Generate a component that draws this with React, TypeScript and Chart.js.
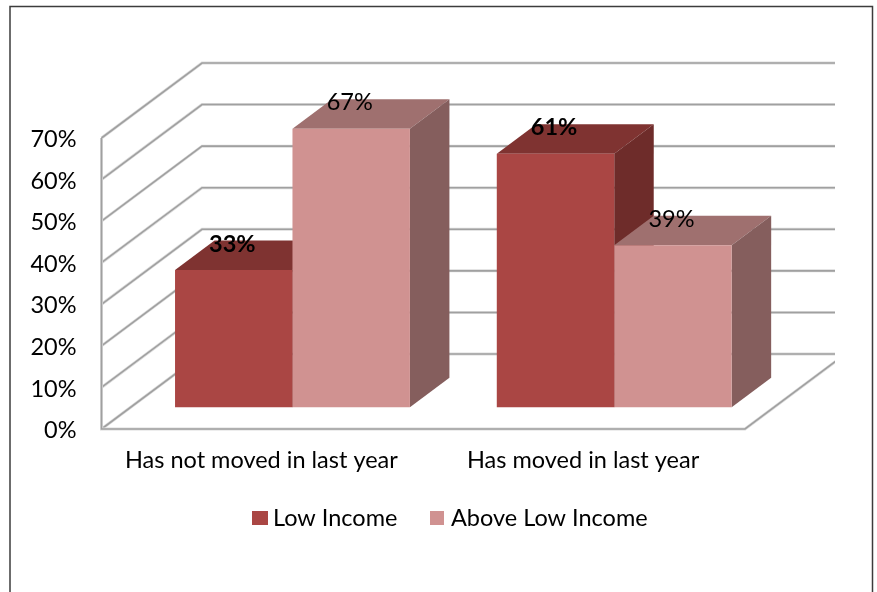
import React, { useEffect, useRef } from "react";
import { Chart, registerables } from "chart.js";

Chart.register(...registerables);

const categories = ["Has not moved in last year", "Has moved in last year"];
const lowIncome = [33, 61];
const aboveLowIncome = [67, 39];
const tickStep = 10;
const axisMax = 70;

const FONT = "Lato, Carlito, sans-serif";
const FONT_SIZE = 23.5;

const LOW_FACE = "#AA4644";
const LOW_TOP = "#7F3331";
const LOW_SIDE = "#6E2C2A";
const ABOVE_FACE = "#D09291";
const ABOVE_TOP = "#9F706F";
const ABOVE_SIDE = "#855E5D";

// Projection of the 3D box: wall depth, bar depth and where the bars stand on the floor.
const WALL_DX = 100.5;
const WALL_DY = 75;
const WALL_RIGHT = 835;
const BAR_DX = 39.5;
const BAR_DY = 29.5;
const FLOOR_DX = 30.1;
const FLOOR_DY = -21.7;

function poly(ctx: CanvasRenderingContext2D, pts: number[][], fill: string) {
  ctx.beginPath();
  pts.forEach(([x, y], i) => (i ? ctx.lineTo(x, y) : ctx.moveTo(x, y)));
  ctx.closePath();
  ctx.fillStyle = fill;
  ctx.fill();
}

function gridStroke(ctx: CanvasRenderingContext2D, pts: number[][]) {
  const trace = () => {
    ctx.beginPath();
    pts.forEach(([x, y], i) => (i ? ctx.lineTo(x, y) : ctx.moveTo(x, y)));
    ctx.stroke();
  };
  ctx.lineCap = "butt";
  ctx.lineJoin = "miter";
  ctx.strokeStyle = "#dcdcdc";
  ctx.lineWidth = 3;
  trace();
  ctx.strokeStyle = "#a0a0a0";
  ctx.lineWidth = 1.6;
  trace();
}

const box3d = {
  id: "box3d",
  beforeDraw(chart: any) {
    const { ctx } = chart;
    ctx.save();
    ctx.fillStyle = "#ffffff";
    ctx.fillRect(0, 0, chart.width, chart.height);

    // Frame round the chart, open at the bottom edge of the page.
    ctx.strokeStyle = "#3c3c3c";
    ctx.lineWidth = 1.5;
    ctx.beginPath();
    ctx.moveTo(10, chart.height + 2);
    ctx.lineTo(10, 6.5);
    ctx.lineTo(872.5, 6.5);
    ctx.lineTo(872.5, chart.height + 2);
    ctx.stroke();

    // Legend row.
    ctx.font = `${FONT_SIZE}px ${FONT}`;
    ctx.textBaseline = "middle";
    ctx.textAlign = "left";
    const swatches = [
      { x: 252, w: 16, tx: 273 },
      { x: 430, w: 14, tx: 451 },
    ];
    chart.data.datasets.forEach((ds: any, i: number) => {
      ctx.fillStyle = ds.backgroundColor;
      ctx.fillRect(swatches[i].x, 511, swatches[i].w, 14);
      ctx.fillStyle = "#000000";
      ctx.fillText(ds.label, swatches[i].tx, 518);
    });
    ctx.restore();
  },
  beforeDatasetsDraw(chart: any) {
    const { ctx, chartArea } = chart;
    const y = chart.scales.y;
    const { left, right, bottom } = chartArea;

    ctx.save();
    ctx.beginPath();
    ctx.rect(0, 0, WALL_RIGHT, chart.height);
    ctx.clip();
    // Side wall and back wall lines, one for every axis tick.
    y.ticks.forEach((t: any) => {
      const py = y.getPixelForValue(t.value);
      gridStroke(ctx, [
        [left, py],
        [left + WALL_DX, py - WALL_DY],
        [WALL_RIGHT + 2, py - WALL_DY],
      ]);
    });
    // Left edge of the side wall, then the floor's front and right edges.
    gridStroke(ctx, [
      [left, y.getPixelForValue(axisMax)],
      [left, bottom],
      [right, bottom],
      [right + WALL_DX, bottom - WALL_DY],
    ]);
    ctx.restore();

    // Everything drawn up to afterDatasetsDraw sits on the floor, behind the front edge.
    ctx.save();
    ctx.translate(FLOOR_DX, FLOOR_DY);
    const shades = [
      { top: LOW_TOP, side: LOW_SIDE },
      { top: ABOVE_TOP, side: ABOVE_SIDE },
    ];
    chart.data.datasets.forEach((_: any, d: number) => {
      chart.getDatasetMeta(d).data.forEach((bar: any) => {
        const l = bar.x - bar.width / 2;
        const r = bar.x + bar.width / 2;
        poly(
          ctx,
          [
            [l, bar.y],
            [l + BAR_DX, bar.y - BAR_DY],
            [r + BAR_DX, bar.y - BAR_DY],
            [r, bar.y],
          ],
          shades[d].top
        );
        poly(
          ctx,
          [
            [r, bar.y],
            [r + BAR_DX, bar.y - BAR_DY],
            [r + BAR_DX, bar.base - BAR_DY],
            [r, bar.base],
          ],
          shades[d].side
        );
      });
    });
  },
  afterDatasetsDraw(chart: any) {
    const { ctx } = chart;
    ctx.textAlign = "center";
    ctx.textBaseline = "middle";
    ctx.fillStyle = "#000000";
    chart.data.datasets.forEach((ds: any, d: number) => {
      ctx.font = `${d === 0 ? "bold " : ""}${FONT_SIZE}px ${FONT}`;
      chart.getDatasetMeta(d).data.forEach((bar: any, i: number) => {
        ctx.fillText(`${ds.data[i]}%`, bar.x - 1.5, bar.y - 26);
      });
    });
    ctx.restore();
  },
};

export default function App() {
  const ref = useRef<HTMLCanvasElement>(null);

  useEffect(() => {
    const chart = new Chart(ref.current!, {
      type: "bar",
      data: {
        labels: categories,
        datasets: [
          { label: "Low Income", data: lowIncome, backgroundColor: LOW_FACE, clip: false },
          { label: "Above Low Income", data: aboveLowIncome, backgroundColor: ABOVE_FACE, clip: false },
        ] as any,
      },
      options: {
        animation: false,
        responsive: false,
        devicePixelRatio: 1,
        layout: { padding: { left: 0, right: 132, top: 138, bottom: 0 } },
        datasets: { bar: { categoryPercentage: 0.73, barPercentage: 1 } },
        plugins: { legend: { display: false }, tooltip: { enabled: false } },
        scales: {
          x: {
            grid: { display: false },
            border: { display: false },
            afterFit: (s: any) => {
              s.height = 163;
            },
            ticks: {
              color: "#000000",
              padding: 9,
              labelOffset: -1,
              maxRotation: 0,
              font: { family: FONT, size: FONT_SIZE },
            },
          },
          y: {
            min: 0,
            max: axisMax,
            grid: { display: false },
            border: { display: false },
            afterFit: (s: any) => {
              s.width = 101.5;
            },
            ticks: {
              stepSize: tickStep,
              color: "#000000",
              padding: 17,
              labelOffset: 1.5,
              font: { family: FONT, size: FONT_SIZE },
              callback: (v: any) => `${v}%`,
            },
          },
        },
      } as any,
      plugins: [box3d],
    });
    return () => chart.destroy();
  }, []);

  return (
    <div style={{ position: "fixed", left: 0, top: 0, width: 877, height: 592, background: "#fff" }}>
      <canvas ref={ref} width={877} height={592} style={{ display: "block" }} />
    </div>
  );
}
